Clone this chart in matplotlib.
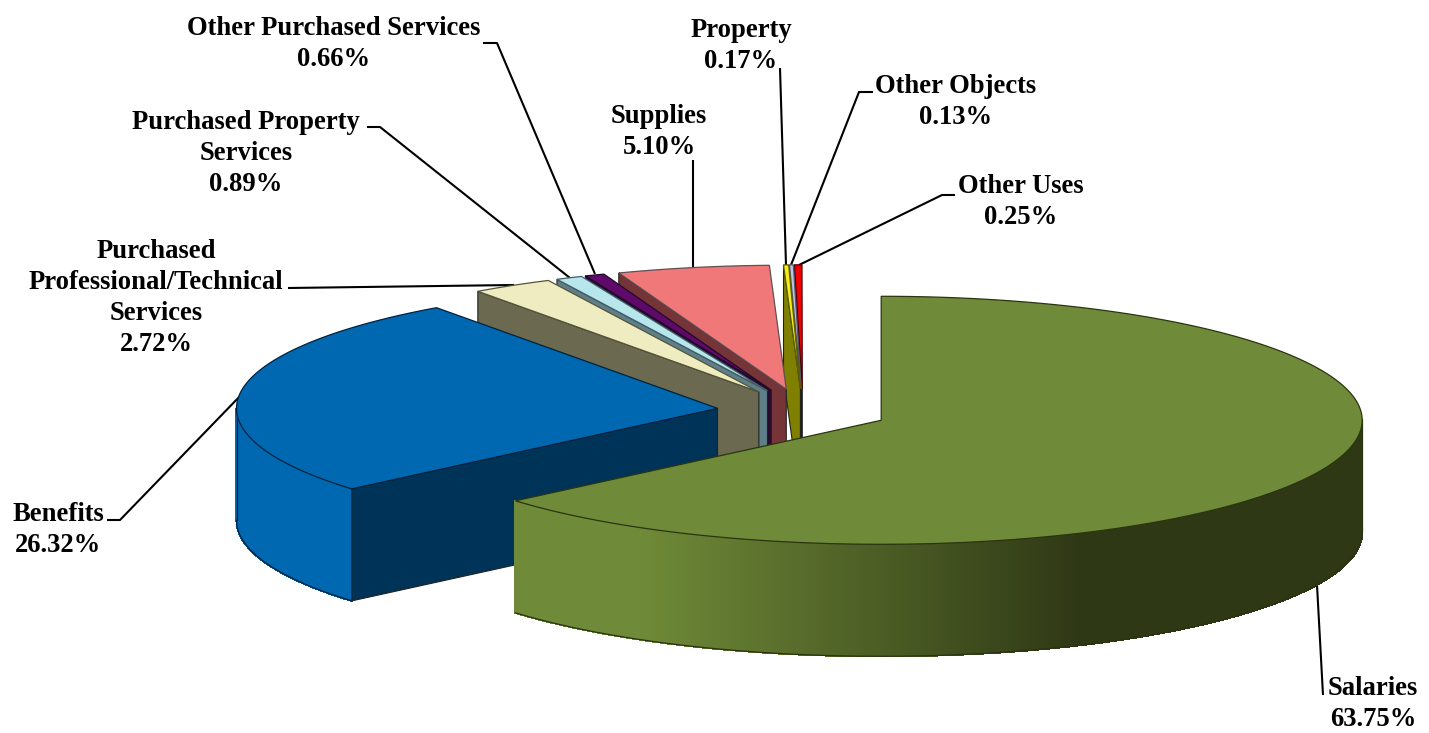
import numpy as np
import matplotlib
matplotlib.use('Agg')
import matplotlib.pyplot as plt
from matplotlib.patches import Polygon
from matplotlib.collections import PolyCollection
from matplotlib.colors import to_rgb

categories = ['Salaries', 'Benefits', 'Purchased\nProfessional/Technical\nServices',
              'Purchased Property\nServices', 'Other Purchased Services', 'Supplies',
              'Property', 'Other Objects', 'Other Uses']
shares = [63.75, 26.32, 2.72, 0.89, 0.66, 5.10, 0.17, 0.13, 0.25]
top_colors = ['#6f8a38', '#0067b1', '#eeecc0', '#b7e6ec', '#5f0a6a', '#f07878',
              '#f5ec20', '#c0c0e0', '#f00000']
wall_colors = ['#6f8a38', '#003358', '#6b6a50', '#5f7f88', '#2a0a30', '#753437',
               '#7f7f00', '#20202a', '#300000']
edge_colors = ['#2a3510', '#00223d', '#55553a', '#44606a', '#200828', '#5e5055',
               '#5c5c00', '#555566', '#500000']

# label centre x, y of first line
label_pos = [(1373, 686), (58, 512), (156, 249), (246, 120), (334, 26),
             (659, 114), (741, 28), (956, 84), (1021, 184)]
leaders = [[(1323, 695), (1317, 585)],
           [(107, 520), (120, 520), (243, 393)],
           [(288, 288), (514, 285)],
           [(367, 127), (380, 127), (570, 278)],
           [(483, 43), (497, 43), (595, 274)],
           [(693, 160), (693, 268)],
           [(780, 68), (786, 265)],
           [(873, 92), (859, 92), (791, 265)],
           [(955, 195), (942, 195), (799, 265)]]

# pie geometry in pixels
cx0, cy0 = 803, 411
rx, ry = 481, 124
depth = 112
explode = 0.179


def rim(cx, cy, a_deg):
    a = np.radians(a_deg)
    return cx + rx * np.sin(a), cy - ry * np.cos(a)


fig = plt.figure(figsize=(14.29, 7.33), dpi=100)
ax = fig.add_axes([0, 0, 1, 1])
ax.set_xlim(0, 1429)
ax.set_ylim(733, 0)
ax.axis('off')

bounds = np.cumsum([0] + shares) * 3.6

for xs, ys in [zip(*l) for l in leaders]:
    ax.plot(xs, ys, color='black', lw=1.5, zorder=1, solid_capstyle='butt')

# back slices first, salaries last
z = 2
for i in range(len(shares) - 1, -1, -1):
    start, end = bounds[i], bounds[i + 1]
    mid = (start + end) / 2
    cx = cx0 + explode * rx * np.sin(np.radians(mid))
    cy = cy0 - explode * ry * np.cos(np.radians(mid))
    ang = np.linspace(start, end, 300)
    xr, yr = rim(cx, cy, ang)

    # outer wall, only the part facing the viewer
    lo, hi = max(start, 90), min(end, 270)
    if lo < hi:
        a2 = np.linspace(lo, hi, 260)
        xw, yw = rim(cx, cy, a2)
        strips = []
        cols = []
        c1 = np.array(to_rgb(top_colors[i]))
        c2 = np.array(to_rgb('#2f3815'))
        for k in range(len(a2) - 1):
            strips.append([(xw[k], yw[k]), (xw[k + 1], yw[k + 1]),
                           (xw[k + 1], yw[k + 1] + depth), (xw[k], yw[k] + depth)])
            if i == 0:
                t = np.interp(xw[k], [640, 1080], [0, 1])
                cols.append(c1 + (c2 - c1) * t)
            else:
                cols.append(c1)
        ax.add_collection(PolyCollection(strips, facecolors=cols, edgecolors=cols,
                                         linewidths=0.8, antialiaseds=False, zorder=z))
        ax.plot(xw, yw + depth, color=edge_colors[i], lw=0.9, zorder=z + 0.1)
        for k in [0, -1]:
            if abs(np.sin(np.radians(a2[k]))) > 0.99:
                ax.plot([xw[k], xw[k]], [yw[k], yw[k] + depth], color=edge_colors[i],
                        lw=0.9, zorder=z + 0.1)

    # radial wall on the start edge
    if i > 0:
        px, py = rim(cx, cy, start)
        ax.add_patch(Polygon([(px, py), (cx, cy), (cx, cy + depth), (px, py + depth)],
                             closed=True, fc=wall_colors[i], ec='#222222', lw=0.8,
                             zorder=z + 0.2))

    ax.add_patch(Polygon(np.vstack([[(cx, cy)], np.column_stack([xr, yr])]), closed=True,
                         fc=top_colors[i], ec=edge_colors[i], lw=0.9, zorder=z + 0.3))
    z += 1

for i, name in enumerate(categories):
    x, y = label_pos[i]
    ax.text(x, y - 10, f'{name}\n{shares[i]:.2f}%', ha='center', va='top', ma='center',
            family='Liberation Serif', weight='bold', fontsize=19.2, linespacing=1.32,
            color='black', zorder=50)

fig.savefig('out.png', dpi=100)
